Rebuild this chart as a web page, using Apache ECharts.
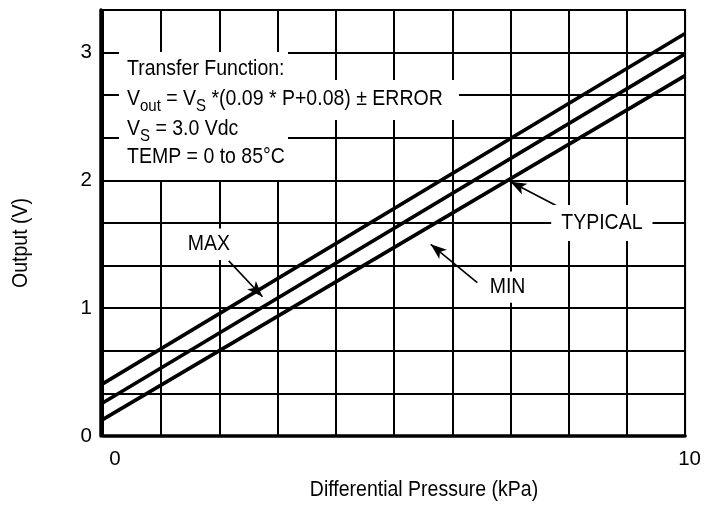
<!DOCTYPE html>
<html><head><meta charset="utf-8">
<script src="https://cdn.jsdelivr.net/npm/echarts@6/dist/echarts.min.js"></script>
<style>html,body{margin:0;padding:0;background:#fff}#c{width:704px;height:505px}</style>
</head><body><div id="c"></div>
<script>
// ---- data ----
const pressure = [0, 10];            // kPa
const maxOut = [0.41, 3.15];         // V
const typOut = [0.26, 2.99];         // V
const minOut = [0.13, 2.82];         // V
const xTickLabels = ['0', '10'];
const yTickLabels = ['0', '1', '2', '3'];
// annotation anchor points (data units)
const maxLabelAt = [1.82, 1.50];
const maxArrow = [[2.16, 1.37], [2.74, 1.09]];
const minLabelAt = [6.95, 1.165];
const minArrow = [[6.43, 1.20], [5.63, 1.50]];
const typLabelAt = [8.57, 1.667];
const typArrow = [[7.80, 1.80], [7.00, 1.99]];

const FONT = "'Liberation Sans', Arial, sans-serif";
const FS = 19.5;
const SY = 1.12;   // the reference text is a little taller than it is wide

const chart = echarts.init(document.getElementById('c'), null, {renderer: 'canvas'});
const toSeries = (vals) => pressure.map((p, i) => [p, vals[i]]);
const lineStyle = {color: '#000', width: 3.6};
const arrowLine = (a) => [{coord: a[0]}, {coord: a[1]}];

chart.setOption({
  animation: false,
  backgroundColor: '#fff',
  grid: {left: 103, right: 16.5, top: 10, bottom: 69, show: true, borderColor: '#000', borderWidth: 2, backgroundColor: 'transparent'},
  xAxis: {
    type: 'value', min: 0, max: 10, interval: 1,
    axisLine: {show: true, onZero: false, lineStyle: {color: '#000', width: 3.5}},
    axisTick: {show: false},
    splitLine: {show: true, lineStyle: {color: '#000', width: 2}},
    axisLabel: {
      margin: 13, color: '#000', fontFamily: FONT, fontSize: 20.5,
      showMinLabel: true, showMaxLabel: true,
      formatter: (v) => {
        const s = String(Math.round(v));
        if (!xTickLabels.includes(s) || Math.abs(v - Math.round(v)) > 1e-6) return '';
        return v < 5 ? '{z|' + s + '}' : '{t|' + s + '}';
      },
      rich: {
        z: {fontFamily: FONT, fontSize: 20.5, color: '#000', padding: [0, 0, 0, 24]},
        t: {fontFamily: FONT, fontSize: 20.5, color: '#000', padding: [0, 0, 0, 9]}
      }
    }
  },
  yAxis: {
    type: 'value', min: 0, max: 10 / 3, interval: 1 / 3, offset: 2,
    axisLine: {show: true, onZero: false, lineStyle: {color: '#000', width: 3.5}},
    axisTick: {show: false},
    splitLine: {show: true, lineStyle: {color: '#000', width: 2}},
    axisLabel: {
      margin: 9, color: '#000', fontFamily: FONT, fontSize: 20.5,
      showMinLabel: true, showMaxLabel: false,
      formatter: (v) => {
        const r = Math.round(v);
        if (Math.abs(v - r) > 1e-6) return '';
        const s = String(r);
        return yTickLabels.includes(s) ? s : '';
      }
    }
  },
  series: [
    {name: 'MAX', type: 'line', data: toSeries(maxOut), showSymbol: false, symbol: 'none', lineStyle, z: 3},
    {name: 'TYPICAL', type: 'line', data: toSeries(typOut), showSymbol: false, symbol: 'none', lineStyle, z: 3,
      markLine: {
        silent: true, symbol: ['none', 'arrow'], symbolSize: [9, 16],
        label: {show: false},
        lineStyle: {color: '#000', width: 1.6, type: 'solid'},
        data: [arrowLine(maxArrow), arrowLine(minArrow), arrowLine(typArrow)]
      }
    },
    {name: 'MIN', type: 'line', data: toSeries(minOut), showSymbol: false, symbol: 'none', lineStyle, z: 3}
  ]
});

const px = (pt) => chart.convertToPixel({gridIndex: 0}, pt);
const plainText = (txt, at, pad, extra) => {
  const p = px(at);
  return Object.assign({
    type: 'text', z: 101, x: p[0], y: p[1], scaleY: SY,
    style: {text: txt, fill: '#000', font: FS + 'px ' + FONT, align: 'center', verticalAlign: 'middle',
      backgroundColor: '#fff', padding: pad}
  }, extra || {});
};
const richSub = {
  n: {fontFamily: FONT, fontSize: FS, fill: '#000', lineHeight: 22},
  s: {fontFamily: FONT, fontSize: 15, fill: '#000', lineHeight: 22, padding: [13, 0, 0, 0]}
};

chart.setOption({
  graphic: [
    {type: 'rect', z: 100, shape: {x: 119, y: 52, width: 169, height: 128}, style: {fill: '#fff'}},
    {type: 'rect', z: 100, shape: {x: 119, y: 80, width: 340, height: 40}, style: {fill: '#fff'}},
    {type: 'text', z: 101, x: 127, y: 69, scaleY: SY, style: {text: 'Transfer Function:', fill: '#000', font: FS + 'px ' + FONT, align: 'left', verticalAlign: 'middle'}},
    {type: 'text', z: 101, x: 127, y: 99, scaleY: SY, style: {
      text: '{n|V}{s|out}{n| = V}{s|S}{n| *(0.09 * P+0.08) ± ERROR}',
      align: 'left', verticalAlign: 'middle', rich: richSub
    }},
    {type: 'text', z: 101, x: 127, y: 129, scaleY: SY, style: {
      text: '{n|V}{s|S}{n| = 3.0 Vdc}',
      align: 'left', verticalAlign: 'middle', rich: richSub
    }},
    {type: 'text', z: 101, x: 127, y: 157, scaleY: SY, style: {text: 'TEMP = 0 to 85°C', fill: '#000', font: FS + 'px ' + FONT, align: 'left', verticalAlign: 'middle'}},
    plainText('MAX', maxLabelAt, [6, 5, 2, 5]),
    plainText('MIN', minLabelAt, [4, 5, 4, 5]),
    plainText('TYPICAL', typLabelAt, [6, 10]),
    {type: 'text', z: 101, x: 21, y: 243, rotation: Math.PI / 2, scaleY: SY, style: {text: 'Output (V)', fill: '#000', font: FS + 'px ' + FONT, align: 'center', verticalAlign: 'middle'}},
    {type: 'text', z: 101, x: 424, y: 490, scaleY: SY, style: {text: 'Differential Pressure (kPa)', fill: '#000', font: FS + 'px ' + FONT, align: 'center', verticalAlign: 'middle'}}
  ]
});
</script>
</body></html>
